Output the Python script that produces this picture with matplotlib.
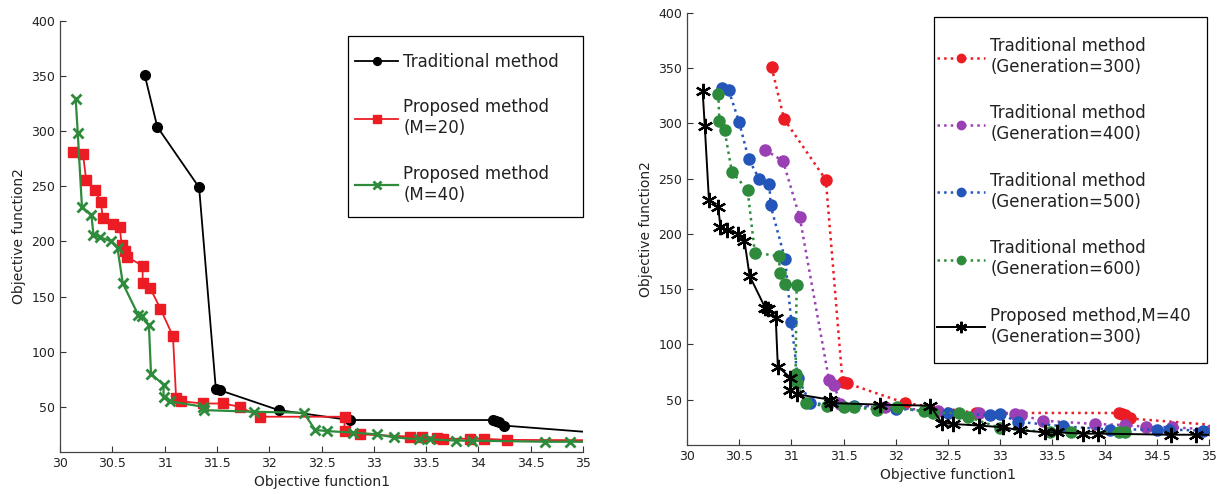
import numpy as np
import matplotlib
matplotlib.use("Agg")
import matplotlib.pyplot as plt
from matplotlib.patches import Rectangle

# ---- data ----
# traditional method (also Generation=300 on the right)
trad_x = [30.81, 30.93, 31.33, 31.49, 31.53, 32.09, 32.77, 34.14, 34.17, 34.20, 34.24, 35.4]
trad_y = [351, 304, 249, 66, 65, 47, 38, 38, 37, 36, 33, 24.5]

# proposed method M=20
m20_x = [30.12, 30.22, 30.25, 30.33, 30.39, 30.41, 30.51, 30.57, 30.59, 30.62, 30.64,
         30.79, 30.79, 30.86, 30.96, 31.08, 31.11, 31.16, 31.37, 31.56, 31.72, 31.91,
         32.72, 32.72, 32.87, 33.35, 33.46, 33.60, 33.66, 33.92, 34.05, 34.27, 35.5]
m20_y = [281, 279, 256, 247, 236, 221, 216, 213, 197, 191, 186,
         178, 162, 158, 139, 114, 58, 55, 53, 53, 50, 41,
         41, 28, 25, 23, 23, 22, 21, 21, 21, 20, 19.5]

# proposed method M=40 (also black curve on the right)
m40_x = [30.15, 30.17, 30.21, 30.30, 30.32, 30.38, 30.49, 30.55, 30.60, 30.75, 30.78,
         30.85, 30.87, 30.99, 30.99, 31.05, 31.37, 31.38, 31.85, 32.33, 32.44, 32.55,
         32.80, 33.03, 33.19, 33.43, 33.54, 33.79, 33.94, 34.64, 34.88, 35.5]
m40_y = [329, 298, 231, 224, 206, 204, 200, 194, 162, 133, 132,
         124, 80, 70, 59, 55, 50, 47, 45.5, 44.6, 29, 28,
         26.6, 25, 22.3, 20.5, 20.5, 19.3, 19.3, 18.3, 18.3, 18]

# traditional method, Generation=400
g400_x = [30.75, 30.92, 31.08, 31.36, 31.41, 31.47, 31.90, 32.40, 32.80, 33.14, 33.20,
          33.41, 33.91, 34.20, 34.40, 34.65, 35.02]
g400_y = [276, 266, 215, 68, 63, 46, 43, 40, 38, 37, 36,
          31, 28, 27, 25.5, 25, 23]

# traditional method, Generation=500
g500_x = [30.34, 30.40, 30.50, 30.59, 30.69, 30.79, 30.80, 30.94, 31.00, 31.06, 31.18,
          31.60, 32.00, 32.50, 32.90, 33.00, 33.17, 33.60, 34.05, 34.50, 34.62, 34.94]
g500_y = [332, 330, 301, 268, 250, 245, 226, 177, 120, 70, 47,
          44, 42, 38, 36, 37, 30, 26, 23, 23, 23, 22]

# traditional method, Generation=600
g600_x = [30.30, 30.31, 30.36, 30.43, 30.58, 30.65, 30.88, 30.89, 30.94, 31.05, 31.04,
          31.05, 31.14, 31.34, 31.50, 31.60, 31.82, 32.01, 32.27, 32.36, 32.61, 32.69,
          33.00, 33.48, 33.68, 34.14, 34.20]
g600_y = [327, 302, 294, 256, 240, 183, 180, 165, 155, 154, 73,
          65, 47, 44, 43, 43, 41, 43, 39.5, 38, 38, 34.4,
          24.4, 20.5, 20.5, 20.5, 20.5]

x_ticks = [30, 30.5, 31, 31.5, 32, 32.5, 33, 33.5, 34, 34.5, 35]
x_tick_labels = ["30", "30.5", "31", "31.5", "32", "32.5", "33", "33.5", "34", "34.5", "35"]
y_ticks = [50, 100, 150, 200, 250, 300, 350, 400]

RED = "#ec1c24"
GREEN = "#2e8b3c"
PURPLE = "#9a3fb4"
BLUE = "#2356b8"
TXT = "#222222"

plt.rcParams["font.family"] = ["DejaVu Sans"]

W, H = 1218, 494
fig = plt.figure(figsize=(W / 100, H / 100), dpi=100)

ax1 = fig.add_axes([60 / W, 1 - 452 / H, 523 / W, (452 - 21) / H])
ax2 = fig.add_axes([687 / W, 1 - 445 / H, 522 / W, (445 - 13) / H])


def style_axes(ax):
    ax.set_xlim(30, 35)
    ax.set_ylim(9, 400)
    ax.set_xticks(x_ticks)
    ax.set_xticklabels(x_tick_labels)
    ax.set_yticks(y_ticks)
    ax.tick_params(direction="in", length=4, width=0.8, labelsize=9, colors="#333333",
                   labelcolor=TXT)
    for s in ["top", "right"]:
        ax.spines[s].set_visible(False)
    for s in ["left", "bottom"]:
        ax.spines[s].set_color("#444444")
        ax.spines[s].set_linewidth(0.9)
    ax.set_xlabel("Objective function1", fontsize=10, color=TXT, labelpad=4)
    ax.set_ylabel("Objective function2", fontsize=10, color=TXT, labelpad=4)


def legend_box(x0, y0, x1, y1):
    # box in pixel coords of the reference, drawn on the figure
    fig.patches.append(Rectangle((x0 / W, 1 - y1 / H), (x1 - x0) / W, (y1 - y0) / H,
                                 transform=fig.transFigure, fill=True, facecolor="white",
                                 edgecolor="black", lw=0.9, zorder=5))


# ---- left panel ----
ax1.plot(trad_x, trad_y, "-", color="black", lw=1.3, marker="o", ms=7,
         label="Traditional method")
ax1.plot(m20_x, m20_y, "-", color=RED, lw=1.3, marker="s", ms=7,
         label="Proposed method\n(M=20)")
ax1.plot(m40_x, m40_y, "-", color=GREEN, lw=1.6, marker="x", ms=7, mew=2,
         label="Proposed method\n(M=40)")
style_axes(ax1)

legend_box(348, 36, 583, 217)
leg1 = fig.legend(handles=ax1.get_lines(), loc="upper left",
                  bbox_to_anchor=(355 / W, 1 - 53 / H), fontsize=12,
                  frameon=False, handlelength=2.6, handletextpad=0.3,
                  labelspacing=1.65, borderpad=0, borderaxespad=0, markerscale=0.8)
leg1.set_zorder(6)
for t in leg1.get_texts():
    t.set_color(TXT)

# ---- right panel ----
ax2.plot(trad_x, trad_y, ":", color=RED, lw=1.8, marker="o", ms=8,
         label="Traditional method\n(Generation=300)")
ax2.plot(g400_x, g400_y, ":", color=PURPLE, lw=1.8, marker="o", ms=8,
         label="Traditional method\n(Generation=400)")
ax2.plot(g500_x, g500_y, ":", color=BLUE, lw=1.8, marker="o", ms=8,
         label="Traditional method\n(Generation=500)")
ax2.plot(g600_x, g600_y, ":", color=GREEN, lw=1.8, marker="o", ms=8,
         label="Traditional method\n(Generation=600)")
ax2.plot(m40_x, m40_y, "-", color="black", lw=1.4, marker=(6, 2, 0), ms=11, mew=1.6,
         label="Proposed method,M=40\n(Generation=300)")
style_axes(ax2)

legend_box(934, 17, 1207, 363)
leg2 = fig.legend(handles=ax2.get_lines(), loc="upper left",
                  bbox_to_anchor=(937 / W, 1 - 37 / H), fontsize=12,
                  frameon=False, handlelength=2.9, handletextpad=0.3,
                  labelspacing=1.72, borderpad=0, borderaxespad=0, markerscale=0.75)
leg2.set_zorder(6)
for t in leg2.get_texts():
    t.set_color(TXT)

fig.savefig("out.png", dpi=100)
